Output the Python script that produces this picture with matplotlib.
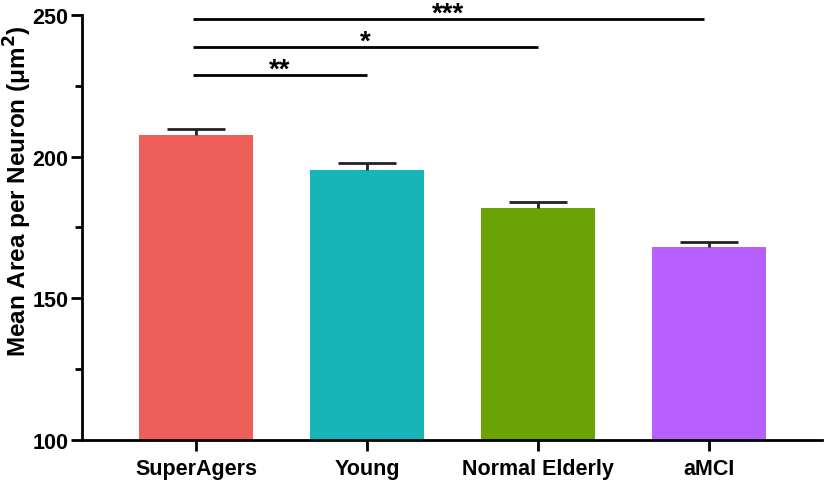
import matplotlib.pyplot as plt
import numpy as np
from matplotlib.ticker import MultipleLocator

plt.rcParams['font.family'] = ['Liberation Sans', 'DejaVu Sans']
plt.rcParams['font.weight'] = 'bold'

groups = ['SuperAgers', 'Young', 'Normal Elderly', 'aMCI']
means = [207.6, 195.4, 182.0, 168.2]
sem = [2.2, 2.4, 2.0, 1.5]
colors = ['#EF5F5A', '#17B5B8', '#6BA204', '#B85FFF']

# comparisons: (from, to, y, label)
sig_pairs = [(0, 1, 228.8, '**'), (0, 2, 238.7, '*'), (0, 3, 248.6, '***')]

fig = plt.figure(figsize=(8.26, 4.81), dpi=100)
ax = fig.add_axes([0.0993, 0.083, 0.896, 0.884])

x = np.arange(len(groups))
means = np.array(means)
sem = np.array(sem)
ax.bar(x, means - 100, bottom=100, width=0.667, color=colors, zorder=2)
# upper error bars only
ax.vlines(x, means, means + sem, color='#222222', lw=2, zorder=3)
ax.hlines(means + sem, x - 0.17, x + 0.17, color='#222222', lw=2, zorder=3)

for i, j, y, lab in sig_pairs:
    x0 = x[i] - 0.02
    x1 = x[j] - (0.03 if j == 3 else 0.0)
    ax.plot([x0, x1], [y, y], color='black', lw=2, clip_on=False, solid_capstyle='butt')
    ax.text((x0 + x1) / 2, y - 0.6, lab, ha='center', va='baseline', fontsize=20,
            fontweight='bold', clip_on=False)

ax.set_xlim(-0.667, 3.66)
ax.set_ylim(100, 250)
ax.yaxis.set_major_locator(MultipleLocator(50))
ax.yaxis.set_minor_locator(MultipleLocator(25))
ax.set_xticks(x)
ax.set_xticklabels(groups, fontsize=15.5, fontweight='bold')
ax.tick_params(axis='y', which='major', labelsize=15.5, length=8, width=2, pad=2)
ax.tick_params(axis='y', which='minor', length=5, width=2)
ax.tick_params(axis='x', length=8, width=2, pad=5)
for lab in ax.get_yticklabels():
    lab.set_fontweight('bold')

ax.spines['top'].set_visible(False)
ax.spines['right'].set_visible(False)
ax.spines['left'].set_linewidth(2)
ax.spines['bottom'].set_linewidth(2)

fig.text(18 / 826, 0.602, 'Mean Area per Neuron (μm$^\\mathbf{2}$)', rotation=90,
         ha='center', va='center', fontsize=17.5, fontweight='bold')

fig.savefig('out.png', dpi=100)
